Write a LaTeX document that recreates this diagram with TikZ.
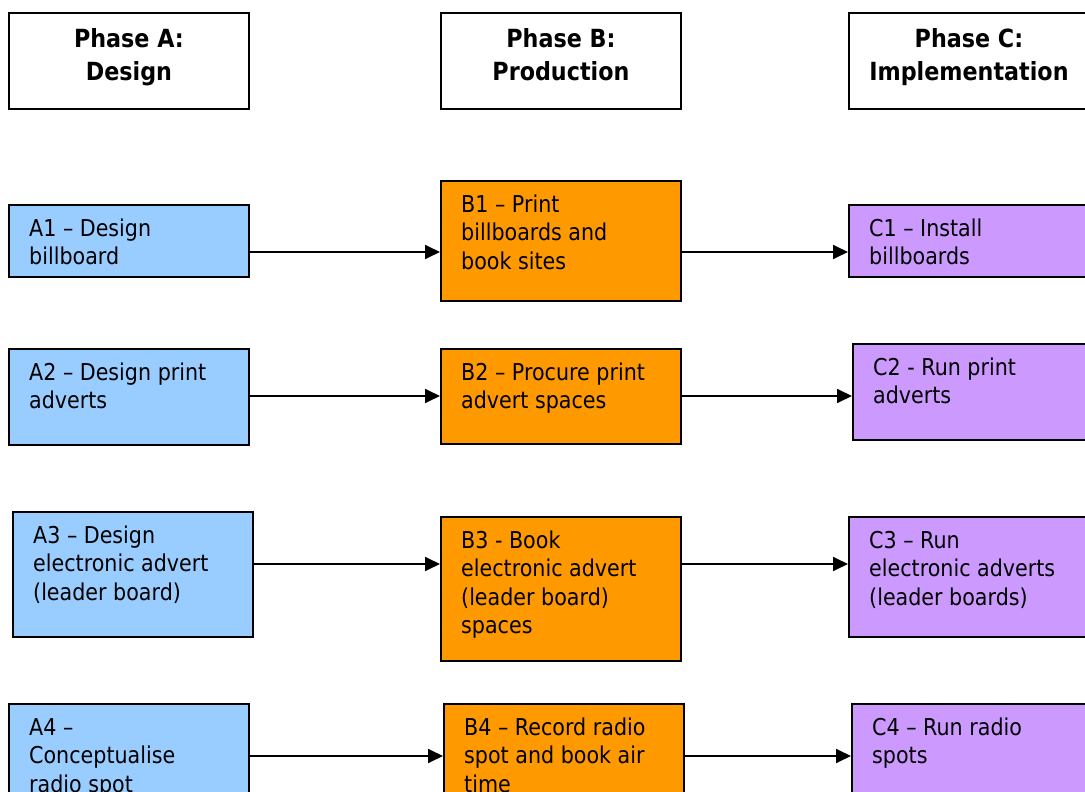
\documentclass[tikz,border=0pt]{standalone}
\usepackage{fontspec}
\setmainfont{DejaVu Sans}[FakeStretch=0.89]
\usetikzlibrary{arrows.meta}

\definecolor{designblue}{HTML}{99CCFF}
\definecolor{prodorange}{HTML}{FF9900}
\definecolor{implpurple}{HTML}{CC99FF}

\newcommand\cellfont{\fontsize{23.2}{28.5}\selectfont}
\newcommand\headfont{\bfseries\fontsize{25}{33}\selectfont}

\tikzset{
  frame/.style={draw=black, line width=1.9pt, rectangle, anchor=north west,
    inner sep=0pt},
  headbox/.style={frame, fill=white, minimum width=240pt, minimum height=96pt},
  headtext/.style={align=center, inner sep=0pt, anchor=north, font=\headfont},
  celltext/.style={align=left, inner sep=0pt, anchor=north west, font=\cellfont},
  flow/.style={draw=black, line width=1.8pt,
    -{Triangle[length=15pt,width=14pt]}},
}

% task box: name, x, y, width, height, fill, text
\newcommand\taskcell[7]{%
  \node[frame, fill=#6, minimum width=#4pt, minimum height=#5pt] (#1) at (#2,#3) {};
  \node[celltext] (#1-t) at ([xshift=21pt,yshift=-12pt]#1.north west) {\strut #7};
}

% phase header: name, x, text
\newcommand\phasehead[3]{%
  \node[headbox] (#1) at (#2,12) {};
  \node[headtext] (#1-t) at ([yshift=-12pt]#1.north) {\strut #3};
}

\begin{document}
\begin{tikzpicture}[x=1pt, y=-1pt]
\useasboundingbox (0,0) rectangle (1085,792);

% phase headers
\phasehead{hA}{8}{Phase A:\\Design}
\phasehead{hB}{440}{Phase B:\\Production}
\phasehead{hC}{848}{Phase C:\\Implementation}

% row 1: billboards
\taskcell{A1}{8}{204}{240}{72}{designblue}{A1 – Design\\billboard}
\taskcell{B1}{440}{180}{240}{120}{prodorange}{B1 – Print\\billboards and\\book sites}
\taskcell{C1}{848}{204}{240}{72}{implpurple}{C1 – Install\\billboards}

% row 2: print adverts
\taskcell{A2}{8}{348}{240}{96}{designblue}{A2 – Design print\\adverts}
\taskcell{B2}{440}{348}{240}{95}{prodorange}{B2 – Procure print\\advert spaces}
\taskcell{C2}{852}{343}{240}{96}{implpurple}{C2 - Run print\\adverts}

% row 3: electronic adverts
\taskcell{A3}{12}{511}{240}{125}{designblue}{A3 – Design\\electronic advert\\(leader board)}
\taskcell{B3}{440}{516}{240}{144}{prodorange}{B3 - Book\\electronic advert\\(leader board)\\spaces}
\taskcell{C3}{848}{516}{240}{120}{implpurple}{C3 – Run\\electronic adverts\\(leader boards)}

% row 4: radio
\taskcell{A4}{8}{703}{240}{130}{designblue}{A4 –\\Conceptualise\\radio spot}
\taskcell{B4}{443}{703}{240}{130}{prodorange}{B4 – Record radio\\spot and book air\\time}
\taskcell{C4}{851}{703}{240}{130}{implpurple}{C4 – Run radio\\spots}

% connector levels
\coordinate (r1) at (0,252);
\coordinate (r2) at (0,396);
\coordinate (r3) at (0,564);
\coordinate (r4) at (0,756);

\draw[flow] (A1.east |- r1) -- (B1.west |- r1);
\draw[flow] (B1.east |- r1) -- (C1.west |- r1);
\draw[flow] (A2.east |- r2) -- (B2.west |- r2);
\draw[flow] (B2.east |- r2) -- (C2.west |- r2);
\draw[flow] (A3.east |- r3) -- (B3.west |- r3);
\draw[flow] (B3.east |- r3) -- (C3.west |- r3);
\draw[flow] (A4.east |- r4) -- (B4.west |- r4);
\draw[flow] (B4.east |- r4) -- (C4.west |- r4);
\end{tikzpicture}
\end{document}
